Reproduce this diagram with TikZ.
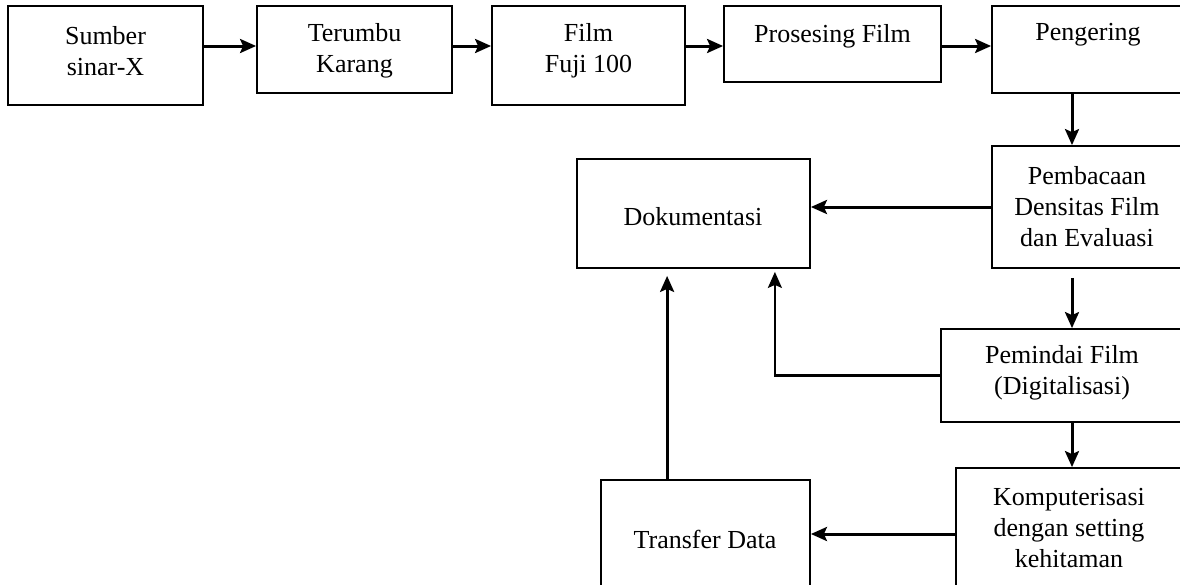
\documentclass[tikz,border=0pt]{standalone}
\usepackage{fontspec}
\setmainfont{Liberation Serif}
\usetikzlibrary{arrows.meta}

\begin{document}
\begin{tikzpicture}[x=1pt,y=-1pt]
\tikzstyle{kotak}=[draw, line width=1.8pt, inner sep=0pt]
\tikzstyle{teks}=[align=center, inner sep=0pt, font=\fontsize{26}{31}\selectfont]
\tikzstyle{panah}=[line width=3pt, -{Stealth[length=16pt,width=14pt,inset=3pt]}]
\useasboundingbox (0,0) rectangle (1180,584);
% kotak-kotak
\node[kotak, minimum width=195, minimum height=99] (sumber) at (105.5,55.5) {};
\node[kotak, minimum width=195, minimum height=87] (terumbu) at (354.5,49.5) {};
\node[kotak, minimum width=193, minimum height=99] (film) at (588.5,55.5) {};
\node[kotak, minimum width=217, minimum height=76] (prosesing) at (832.5,44) {};
\node[kotak, minimum width=198, minimum height=87] (pengering) at (1091,49.5) {};
\node[kotak, minimum width=198, minimum height=122] (pembacaan) at (1091,207) {};
\node[kotak, minimum width=233, minimum height=109] (dokumentasi) at (693.5,213.5) {};
\node[kotak, minimum width=249, minimum height=93] (pemindai) at (1065.5,375.5) {};
\node[kotak, minimum width=234, minimum height=132] (komputerisasi) at (1073,534) {};
\node[kotak, minimum width=209, minimum height=120] (transfer) at (705.5,540) {};
% teks
\node[teks] (t-sumber) at (105.5,51) {Sumber\\sinar-X};
\node[teks] (t-terumbu) at (354.5,51) {Terumbu\\Karang};
\node[teks] (t-film) at (588.5,51) {Film\\Fuji 100};
\node[teks] (t-prosesing) at (832.5,36) {Prosesing Film};
\node[teks] (t-pengering) at (1088,35) {Pengering};
\node[teks] (t-pembacaan) at (1087,207) {Pembacaan\\Densitas Film\\dan Evaluasi};
\node[teks] (t-dokumentasi) at (693,217) {Dokumentasi};
\node[teks] (t-pemindai) at (1062,373) {Pemindai Film\\(Digitalisasi)};
\node[teks] (t-komputerisasi) at (1069,528) {Komputerisasi\\dengan setting\\kehitaman};
\node[teks] (t-transfer) at (705,539) {Transfer Data};
% jalur panah
\coordinate (baris) at (0,46);
\coordinate (tulang) at (1072,0);
\draw[panah] (sumber.east |- baris) -- (terumbu.west |- baris);
\draw[panah] (terumbu.east |- baris) -- (film.west |- baris);
\draw[panah] (film.east |- baris) -- (prosesing.west |- baris);
\draw[panah] (prosesing.east |- baris) -- (pengering.west |- baris);
\draw[panah] (pengering.south -| tulang) -- (pembacaan.north -| tulang);
\draw[panah] (pembacaan.west) -- (dokumentasi.east |- pembacaan.west);
\draw[panah, shorten <=9pt] (pembacaan.south -| tulang) -- (pemindai.north -| tulang);
\draw[panah, line width=2.2pt, shorten >=3pt] (pemindai.west) -| ([xshift=-36pt]dokumentasi.south east);
\draw[panah] (pemindai.south -| tulang) -- (komputerisasi.north -| tulang);
\draw[panah] (komputerisasi.west) -- (transfer.east |- komputerisasi.west);
\draw[panah, shorten >=7pt] ([xshift=67pt]transfer.north west) -- ([xshift=67pt]transfer.north west |- dokumentasi.south);
\end{tikzpicture}
\end{document}
